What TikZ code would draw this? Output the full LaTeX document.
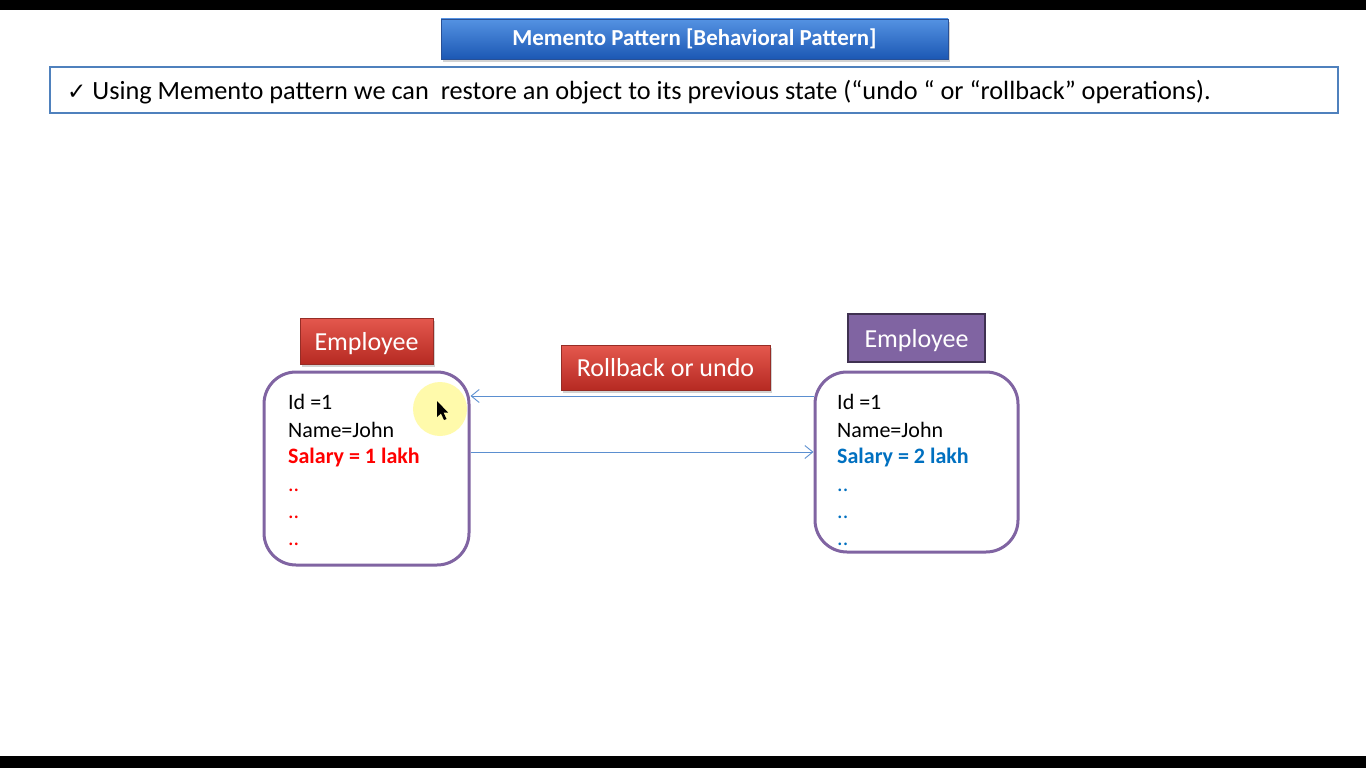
\documentclass[tikz,border=0pt]{standalone}
\usepackage{fontspec}
\setmainfont{Carlito}
\newfontfamily\djv{DejaVu Sans}
\usetikzlibrary{arrows.meta,shadows}
\definecolor{ttop}{RGB}{84,146,226}
\definecolor{tbot}{RGB}{28,88,180}
\definecolor{tborder}{RGB}{40,80,150}
\definecolor{introblue}{RGB}{79,129,189}
\definecolor{rtop}{RGB}{228,88,78}
\definecolor{rbot}{RGB}{182,42,34}
\definecolor{rborder}{RGB}{150,45,38}
\definecolor{purp}{RGB}{128,100,162}
\definecolor{purpdark}{RGB}{63,49,81}
\definecolor{arrblue}{RGB}{91,143,208}
\definecolor{salred}{RGB}{255,0,0}
\definecolor{salblue}{RGB}{0,112,192}
\begin{document}
\begin{tikzpicture}[x=1pt,y=-1pt,
  titlebox/.style={draw=tborder,line width=0.8pt,top color=ttop,bottom color=tbot,text=white,
    font=\fontsize{22.9}{26}\selectfont\bfseries,minimum width=507pt,minimum height=40pt,inner sep=0pt,
    drop shadow={opacity=0.35,shadow xshift=2pt,shadow yshift=-3pt}},
  introbox/.style={draw=introblue,line width=2.5pt,fill=white,minimum width=1288pt,minimum height=46pt,inner sep=0pt},
  introtext/.style={anchor=west,font=\fontsize{26.3}{30}\selectfont,inner sep=0pt,text depth=0pt},
  redlab/.style={draw=rborder,line width=0.8pt,top color=rtop,bottom color=rbot,text=white,
    font=\fontsize{26}{30}\selectfont,inner sep=0pt,text depth=0pt,
    drop shadow={opacity=0.35,shadow xshift=2pt,shadow yshift=-3pt}},
  purlab/.style={draw=purpdark,line width=2pt,fill=purp,text=white,
    font=\fontsize{26}{30}\selectfont,inner sep=0pt,text depth=0pt},
  objbox/.style={draw=purp,line width=3pt,fill=white,rounded corners=32pt,inner sep=0pt},
  field/.style={anchor=west,font=\fontsize{22}{26}\selectfont,inner sep=0pt,text height=0.75em,text depth=0.25em},
  conn/.style={draw=arrblue,line width=0.9pt,-{Straight Barb[length=8pt,width=13pt]}}
]
\useasboundingbox (0,0) rectangle (1366,768);
\fill[white] (0,0) rectangle (1366,768);
\fill[black] (0,0) rectangle (1366,10);
\fill[black] (0,756) rectangle (1366,768);

\node[titlebox] (title) at (694.5,39) {Memento Pattern [Behavioral Pattern]};
\node[introbox] (intro) at (694,90) {};
\node[introtext] (introtxt) at (67,90) {{\djv\fontsize{23}{26}\selectfont ✓} Using Memento pattern we can\ \ restore an object to its previous state (“undo “ or “rollback” operations).};

% left object
\node[redlab,minimum width=133pt,minimum height=46pt] (lemp) at (366.5,341) {Employee};
\node[objbox,minimum width=205pt,minimum height=193pt] (lbox) at (366.5,468.5) {};
\node[field] (lid) at (288,407) {Id =1};
\node[field] (lname) at (288,434.5) {Name=John};
\node[field,text=salred,font=\fontsize{22}{26}\selectfont\bfseries] (lsal) at (288,461) {Salary = 1 lakh};
\node[field,text=salred] (ld1) at (288,489) {..};
\node[field,text=salred] (ld2) at (288,516) {..};
\node[field,text=salred] (ld3) at (288,543) {..};

% right object
\node[purlab,minimum width=137pt,minimum height=48pt] (remp) at (916.5,338) {Employee};
\node[objbox,minimum width=203pt,minimum height=180pt] (rbox) at (916.5,462) {};
\node[field] (rid) at (837,407) {Id =1};
\node[field] (rname) at (837,434.5) {Name=John};
\node[field,text=salblue,font=\fontsize{22}{26}\selectfont\bfseries] (rsal) at (837,461) {Salary = 2 lakh};
\node[field,text=salblue] (rd1) at (837,489) {..};
\node[field,text=salblue] (rd2) at (837,516) {..};
\node[field,text=salblue] (rd3) at (837,543) {..};

\node[redlab,minimum width=209pt,minimum height=45pt] (roll) at (665.5,367.5) {Rollback or undo};

\coordinate (ytop) at (0,396);
\coordinate (ybot) at (0,452);
\draw[conn] (rbox.west |- ytop) -- (lbox.east |- ytop);
\draw[conn] (lbox.east |- ybot) -- (rbox.west |- ybot);

% cursor highlight
\fill[yellow!60!white,opacity=0.55] (440,409) circle (27pt);
\fill[black] (437,401) -- (437,417) -- (441,413.5) -- (444,420) -- (446.5,419) -- (443.5,412.5) -- (448,412.5) -- cycle;
\end{tikzpicture}
\end{document}
